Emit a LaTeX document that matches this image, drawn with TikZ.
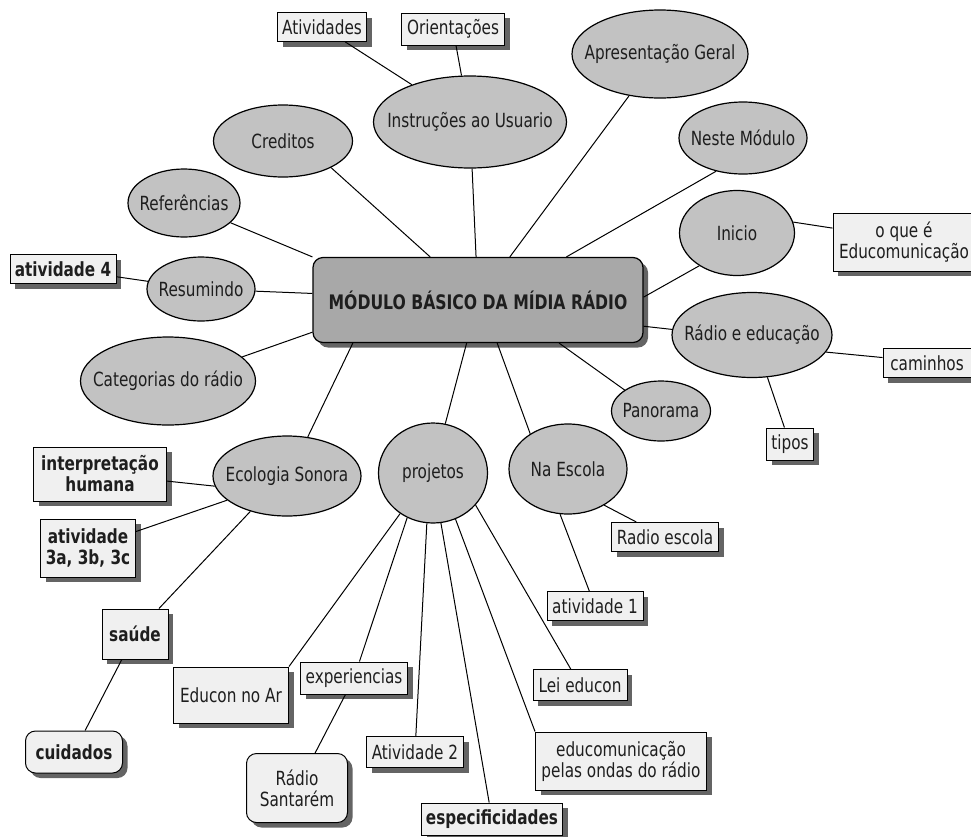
\documentclass[tikz,border=0pt]{standalone}
\usepackage{fontspec}
\setmainfont{DejaVu Sans Condensed}[FakeStretch=0.87]
\usetikzlibrary{shapes.geometric,shadows}
\definecolor{ellgray}{HTML}{C2C2C2}
\definecolor{centgray}{HTML}{A8A8A8}
\definecolor{boxgray}{HTML}{F0F0F0}
\definecolor{shgray}{HTML}{646464}
\definecolor{txt}{HTML}{1E1E1E}
\newcommand{\zw}[1]{\makebox[0pt]{#1}}
\begin{document}
\begin{tikzpicture}[x=1pt,y=-1pt,font=\fontsize{19.5}{21}\selectfont,text=txt,
  ell/.style={ellipse,draw,line width=1.2pt,fill=ellgray,inner sep=0pt,align=center},
  box/.style={rectangle,draw,line width=1pt,fill=boxgray,inner sep=0pt,align=center,
    drop shadow={shadow xshift=5pt,shadow yshift=-5pt,fill=shgray,opacity=1}},
  rbox/.style={box,rounded corners=10pt},
  link/.style={line width=1pt},
  bf/.style={font=\fontsize{19.5}{21}\selectfont\bfseries}]
\useasboundingbox (0,0) rectangle (971,836);
% central
\node[rectangle,draw,line width=1.2pt,fill=centgray,rounded corners=10pt,minimum width=330pt,minimum height=85pt,inner sep=0pt,
  drop shadow={shadow xshift=5pt,shadow yshift=-5pt,fill=shgray,opacity=1},font=\fontsize{20}{22}\selectfont\bfseries] (cent) at (478,300) {MÓDULO BÁSICO DA MÍDIA RÁDIO};
% ellipses
\node[ell,minimum width=176pt,minimum height=88pt] (apres) at (660,54) {\zw{Apresentação Geral}};
\node[ell,minimum width=193pt,minimum height=92pt] (instr) at (470,122) {\zw{Instruções ao Usuario}};
\node[ell,minimum width=139pt,minimum height=72pt] (cred) at (283,141) {\zw{Creditos}};
\node[ell,minimum width=128pt,minimum height=72pt] (neste) at (743,138) {\zw{Neste Módulo}};
\node[ell,minimum width=112pt,minimum height=68pt] (refer) at (184,203) {\zw{Referências}};
\node[ell,minimum width=115pt,minimum height=85pt] (inicio) at (737,233) {\zw{Inicio}};
\node[ell,minimum width=108pt,minimum height=64pt] (resum) at (201,289) {\zw{Resumindo}};
\node[ell,minimum width=160pt,minimum height=85pt] (radioed) at (752,335) {\zw{Rádio e educação}};
\node[ell,minimum width=175pt,minimum height=88pt] (categ) at (168,381) {\zw{Categorias do rádio}};
\node[ell,minimum width=99pt,minimum height=60pt] (panor) at (661,411) {\zw{Panorama}};
\node[ell,minimum width=118pt,minimum height=90pt] (escola) at (568,469) {\zw{Na Escola}};
\node[ell,minimum width=109pt,minimum height=100pt] (proj) at (433,473) {\zw{projetos}};
\node[ell,minimum width=148pt,minimum height=80pt] (ecol) at (287,476) {\zw{Ecologia Sonora}};
% boxes
\node[box,minimum width=89pt,minimum height=29pt] (ativs) at (322,27) {Atividades};
\node[box,minimum width=103pt,minimum height=32pt] (orient) at (453,29) {Orientações};
\node[box,minimum width=142pt,minimum height=58pt] (oque) at (904,242) {o que é\\Educomunicação};
\node[box,bf,minimum width=106pt,minimum height=29pt] (ativ4) at (63,269) {atividade 4};
\node[box,minimum width=88pt,minimum height=29pt] (camin) at (927,363) {caminhos};
\node[box,minimum width=47pt,minimum height=32pt] (tipos) at (790,444) {tipos};
\node[box,bf,minimum width=133pt,minimum height=54pt] (interp) at (100,474) {interpretação\\humana};
\node[box,bf,minimum width=95pt,minimum height=58pt] (ativ3) at (88,548) {atividade\\3a, 3b, 3c};
\node[box,minimum width=107pt,minimum height=29pt] (resc) at (665,537) {Radio escola};
\node[box,bf,minimum width=66pt,minimum height=50pt] (saude) at (135,634) {saúde};
\node[rbox,bf,minimum width=97pt,minimum height=42pt] (cuid) at (74,752) {cuidados};
\node[box,minimum width=115pt,minimum height=56pt] (educar) at (231,695) {Educon no Ar};
\node[box,minimum width=107pt,minimum height=32pt] (exper) at (354,678) {experiencias};
\node[rbox,minimum width=101pt,minimum height=69pt] (santa) at (297,788) {Rádio\\Santarém};
\node[box,minimum width=97pt,minimum height=31pt] (ativ2) at (415,752) {Atividade 2};
\node[box,bf,minimum width=141pt,minimum height=32pt] (espec) at (492,819) {especificidades};
\node[box,minimum width=96pt,minimum height=29pt] (ativ1) at (595,606) {atividade 1};
\node[box,minimum width=94pt,minimum height=31pt] (lei) at (580,685) {Lei educon};
\node[box,minimum width=171pt,minimum height=58pt] (ondas) at (621,761) {educomunicação\\pelas ondas do rádio};
% connectors
\draw[link] (ativs) -- (instr);
\draw[link] (orient) -- (instr);
\draw[link] (instr) -- (cent);
\draw[link] (apres) -- (cent);
\draw[link] (neste.-129) -- (cent.26);
\draw[link] (inicio.-139) -- (cent.1);
\draw[link] (inicio.11) -- (oque.169);
\draw[link] (radioed.176) -- (cent.-9);
\draw[link] (radioed.-13) -- (camin.173.5);
\draw[link] (radioed.-70) -- (tipos);
\draw[link] (panor.150) -- (cent.-28);
\draw[link] (escola.137) -- (cent.-66);
\draw[link] (escola.-45) -- (resc);
\draw[link] (escola.-100) -- (ativ1);
\draw[link] (proj.76) -- (cent);
\draw[link] (cred.-29) -- (cent);
\draw[link] (refer.-23) -- (cent.north west);
\draw[link] (resum) -- (cent);
\draw[link] (ativ4) -- (resum);
\draw[link] (categ.18) -- (cent.-169);
\draw[link] (ecol.62) -- (cent.-161.6);
\draw[link] (interp) -- (ecol.-172);
\draw[link] (ativ3) -- (ecol.-158);
\draw[link] (ecol.-136) -- (saude);
\draw[link] (saude) -- (cuid);
\draw[link] (proj.-129) -- (educar.north east);
\draw[link] (proj.-120) -- (exper);
\draw[link] (proj.-97) -- (ativ2);
\draw[link] (proj.-81) -- (espec);
\draw[link] (proj.-64) -- (ondas.north west);
\draw[link] (proj.-37) -- (lei);
\draw[link] (exper) -- (santa);
\end{tikzpicture}
\end{document}
